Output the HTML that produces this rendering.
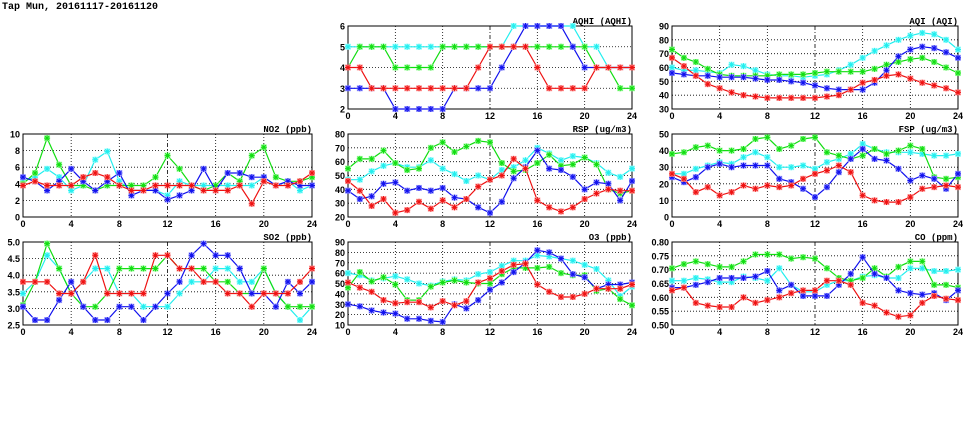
<!DOCTYPE html>
<html><head><meta charset="utf-8"><style>
body{margin:0;background:#fff;width:975px;height:447px;overflow:hidden}
svg{display:block}
text{font-family:"Liberation Sans",sans-serif;font-weight:bold;fill:#000}
.mono{font-family:"Liberation Mono",monospace}
</style></head><body>
<svg id="chart" width="975" height="447" viewBox="0 0 975 447">
<text class="mono" x="2" y="9" font-size="10">Tap Mun, 20161117-20161120</text>
</svg>
<script>
const hours = [0,1,2,3,4,5,6,7,8,9,10,11,12,13,14,15,16,17,18,19,20,21,22,23,24];
const seriesNames = ["cyan","green","blue","red"];
const aqhiCyan = [5,5,5,5,5,5,5,5,5,5,5,5,5,5,6,6,6,6,6,6,5,5,4,4,4];
const aqhiGreen = [4,5,5,5,4,4,4,4,5,5,5,5,5,5,5,5,5,5,5,5,5,4,4,3,3];
const aqhiBlue = [3,3,3,3,2,2,2,2,2,3,3,3,3,4,5,6,6,6,6,5,4,4,4,4,4];
const aqhiRed = [4,4,3,3,3,3,3,3,3,3,3,4,5,5,5,5,4,3,3,3,3,4,4,4,4];
const aqiCyan = [60,58,58,57,56,62,61,58,55,54,54,53,54,55,58,62,67,72,76,80,83,85,84,80,73];
const aqiGreen = [73,67,64,59,55,54,54,54,54,55,55,55,56,57,57,57,57,59,62,64,66,67,64,60,56];
const aqiBlue = [56,55,54,54,53,53,53,52,51,51,50,49,47,45,44,44,44,49,58,68,73,75,74,71,67];
const aqiRed = [67,61,54,48,45,42,40,39,38,38,38,38,38,39,40,44,49,51,54,55,52,49,47,45,42];
const no2Cyan = [4.3,4.8,5.8,4.8,3.2,3.8,6.9,7.9,4.3,3.2,3.2,3.2,2.6,4.3,3.8,3.8,3.8,3.8,3.8,3.8,4.8,3.8,4.3,3.2,3.8];
const no2Green = [4,5.3,9.5,6.3,3.8,3.8,3.2,3.8,3.8,3.8,3.8,4.8,7.4,5.8,3.8,3.2,3.8,5.3,4.3,7.4,8.4,4.8,4.3,4.3,4.8];
const no2Blue = [4.8,4.3,3.2,4.3,5.8,4.3,3.2,4.3,5.3,2.6,3.2,3.2,2.1,2.6,3.2,5.8,3.2,5.3,5.3,4.8,4.8,3.8,4.3,3.8,3.8];
const no2Red = [3.8,4.3,3.8,3.8,3.8,4.8,5.3,4.8,3.8,3.2,3.2,3.8,3.8,3.8,3.8,3.2,3.2,3.2,3.8,1.6,4.3,3.8,3.8,4.3,5.3];
const rspCyan = [47,47,53,57,59,56,56,61,55,51,46,50,47,54,56,61,70,66,61,64,63,59,52,49,55];
const rspGreen = [55,62,62,68,59,54,55,70,74,67,71,75,74,59,53,54,59,65,57,58,63,58,40,37,39];
const rspBlue = [39,33,35,44,45,39,41,39,41,34,33,27,23,31,48,56,68,55,54,49,40,45,44,32,46];
const rspRed = [46,39,28,33,23,25,31,26,32,27,33,42,47,50,62,55,32,27,24,27,33,37,40,39,39];
const fspCyan = [26,26,29,31,33,32,36,39,36,30,30,31,29,33,35,38,44,41,39,39,39,38,37,37,38];
const fspGreen = [38,39,42,43,40,40,41,47,48,41,43,47,48,39,37,35,37,41,38,40,43,41,24,23,24];
const fspBlue = [24,21,24,30,32,30,31,31,31,23,21,17,12,18,27,35,41,35,34,29,22,25,23,17,26];
const fspRed = [26,23,15,18,13,15,19,17,19,18,19,23,26,28,31,27,13,10,9,9,12,17,18,19,18];
const so2Cyan = [3.45,3.8,4.6,4.2,3.45,3.8,4.2,4.2,3.45,3.45,3.05,3.05,3.05,3.45,3.8,3.8,4.2,4.2,3.8,3.8,4.2,3.45,3.05,2.65,3.05];
const so2Green = [3.1,3.8,4.95,4.2,3.45,3.05,3.05,3.45,4.2,4.2,4.2,4.2,4.6,4.2,4.2,4.2,3.8,3.8,3.45,3.45,4.2,3.45,3.05,3.05,3.05];
const so2Blue = [3.05,2.65,2.65,3.25,3.8,3.05,2.65,2.65,3.05,3.05,2.65,3.05,3.45,3.8,4.6,4.95,4.6,4.6,4.2,3.45,3.45,3.05,3.8,3.45,3.8];
const so2Red = [3.8,3.8,3.8,3.45,3.45,3.8,4.6,3.45,3.45,3.45,3.45,4.6,4.6,4.2,4.2,3.8,3.8,3.45,3.45,3.05,3.45,3.45,3.45,3.8,4.2];
const o3Cyan = [60,58,53,55,57,54,50,48,52,54,53,59,61,67,72,72,77,76,74,72,68,64,53,38,47];
const o3Green = [46,61,52,56,49,34,34,47,51,53,51,50,50,59,65,65,65,66,60,58,58,43,45,35,29];
const o3Blue = [30,28,24,22,21,16,16,14,13,30,26,34,44,51,61,70,82,80,74,59,56,45,49,49,51];
const o3Red = [51,46,42,34,31,32,32,27,33,29,33,51,55,62,68,69,49,42,37,37,40,45,45,45,49];
const coCyan = [.66,.66,.67,.665,.655,.655,.675,.67,.66,.705,.645,.62,.62,.645,.66,.66,.675,.68,.67,.67,.705,.705,.695,.695,.70];
const coGreen = [.705,.72,.73,.72,.71,.71,.73,.755,.755,.755,.74,.745,.74,.705,.67,.66,.67,.705,.675,.71,.73,.73,.645,.645,.635];
const coBlue = [.635,.635,.645,.655,.67,.67,.67,.675,.695,.625,.645,.605,.605,.605,.645,.685,.745,.685,.67,.625,.615,.61,.615,.59,.625];
const coRed = [.625,.635,.58,.57,.565,.565,.60,.58,.59,.60,.615,.625,.625,.66,.66,.645,.58,.57,.545,.53,.535,.58,.605,.595,.59];
const xTicks = ["0","4","8","12","16","20","24"];
const aqhiTicks = ["2","3","4","5","6"];
const aqiTicks = ["30","40","50","60","70","80","90"];
const no2Ticks = ["0","2","4","6","8","10"];
const rspTicks = ["20","30","40","50","60","70","80"];
const fspTicks = ["0","10","20","30","40","50"];
const so2Ticks = ["2.5","3.0","3.5","4.0","4.5","5.0"];
const o3Ticks = ["10","20","30","40","50","60","70","80","90"];
const coTicks = ["0.50","0.55","0.60","0.65","0.70","0.75","0.80"];

const COLORS={cyan:"#22eeee",green:"#11dd11",blue:"#1111ee",red:"#ee1111"};
const LIGHT={cyan:"#aaffff",green:"#aaffaa",blue:"#aaaaff",red:"#ffaaaa"};
const NS="http://www.w3.org/2000/svg";
const svg=document.getElementById("chart");
function mk(tag,attrs,parent){const e=document.createElementNS(NS,tag);for(const k in attrs)e.setAttribute(k,attrs[k]);(parent||svg).appendChild(e);return e;}

const panels=[
 {id:"aqhi",title:"AQHI (AQHI)",x0:348,x1:632,y0:26,y1:109,ticks:aqhiTicks,s:[aqhiCyan,aqhiGreen,aqhiBlue,aqhiRed]},
 {id:"aqi",title:"AQI (AQI)",x0:672,x1:958,y0:26,y1:109,ticks:aqiTicks,s:[aqiCyan,aqiGreen,aqiBlue,aqiRed]},
 {id:"no2",title:"NO2 (ppb)",x0:23,x1:312,y0:134,y1:217,ticks:no2Ticks,s:[no2Cyan,no2Green,no2Blue,no2Red]},
 {id:"rsp",title:"RSP (ug/m3)",x0:348,x1:632,y0:134,y1:217,ticks:rspTicks,s:[rspCyan,rspGreen,rspBlue,rspRed]},
 {id:"fsp",title:"FSP (ug/m3)",x0:672,x1:958,y0:134,y1:217,ticks:fspTicks,s:[fspCyan,fspGreen,fspBlue,fspRed]},
 {id:"so2",title:"SO2 (ppb)",x0:23,x1:312,y0:242,y1:325,ticks:so2Ticks,s:[so2Cyan,so2Green,so2Blue,so2Red]},
 {id:"o3",title:"O3 (ppb)",x0:348,x1:632,y0:242,y1:325,ticks:o3Ticks,s:[o3Cyan,o3Green,o3Blue,o3Red]},
 {id:"co",title:"CO (ppm)",x0:672,x1:958,y0:242,y1:325,ticks:coTicks,s:[coCyan,coGreen,coBlue,coRed]}
];

panels.forEach(p=>{
  const g=mk("g",{});
  
  
  const ymin=parseFloat(p.ticks[0]),ymax=parseFloat(p.ticks[p.ticks.length-1]);
  const xs=h=>p.x0+(h-0)/(24-0)*(p.x1-p.x0);
  const ys=v=>p.y1-(v-ymin)/(ymax-ymin)*(p.y1-p.y0);
  // grid
  p.ticks.forEach((t,i)=>{
    const y=ys(parseFloat(t));
    if(i>0&&i<p.ticks.length-1){const l=mk("line",{x1:p.x0,x2:p.x1,y1:y,y2:y,stroke:"#000","stroke-width":0.8,"stroke-dasharray":"1,2"},g);
      
      }
    const tx=mk("text",{x:p.x0-3,y:y+3.5,"font-size":9,"text-anchor":"end"},g);
    
    
    tx.textContent=t;
  });
  xTicks.forEach((t,i)=>{
    const x=xs(parseFloat(t));
    if(i>0&&i<xTicks.length-1){const l=mk("line",{x1:x,x2:x,y1:p.y0,y2:p.y1,stroke:"#000","stroke-width":0.8,"stroke-dasharray":t==="12"?"4,2,1,2":"1,2"},g);
      
      }
    const tx=mk("text",{x:x,y:p.y1+10,"font-size":9,"text-anchor":"middle"},g);
    
    
    tx.textContent=t;
  });
  const fr=mk("rect",{x:p.x0,y:p.y0,width:p.x1-p.x0,height:p.y1-p.y0,fill:"none",stroke:"#000","stroke-width":1},g);
  
  
  const ti=mk("text",{x:p.x1,y:p.y0-2,"font-size":9,"text-anchor":"end","class":"mono"},g);
  
  
  ti.textContent=p.title;
  p.s.forEach((vals,si)=>{
    const c=seriesNames[si];
    const pts=hours.map((h,i)=>xs(h).toFixed(1)+","+ys(vals[i]).toFixed(1)).join(" ");
    const pl=mk("polyline",{points:pts,fill:"none",stroke:COLORS[c],"stroke-width":1.2},g);
    
    
    hours.forEach((h,i)=>{
      const x=xs(h),y=ys(vals[i]);
      const m=mk("g",{},g);
      
      
      mk("rect",{x:x-3,y:y-3,width:6,height:6,fill:LIGHT[c]},m);
      mk("path",{d:`M${x-3},${y}H${x+3}M${x},${y-3}V${y+3}M${x-2.2},${y-2.2}L${x+2.2},${y+2.2}M${x-2.2},${y+2.2}L${x+2.2},${y-2.2}`,stroke:COLORS[c],"stroke-width":1},m);
    });
  });
});
</script>
</body></html>
